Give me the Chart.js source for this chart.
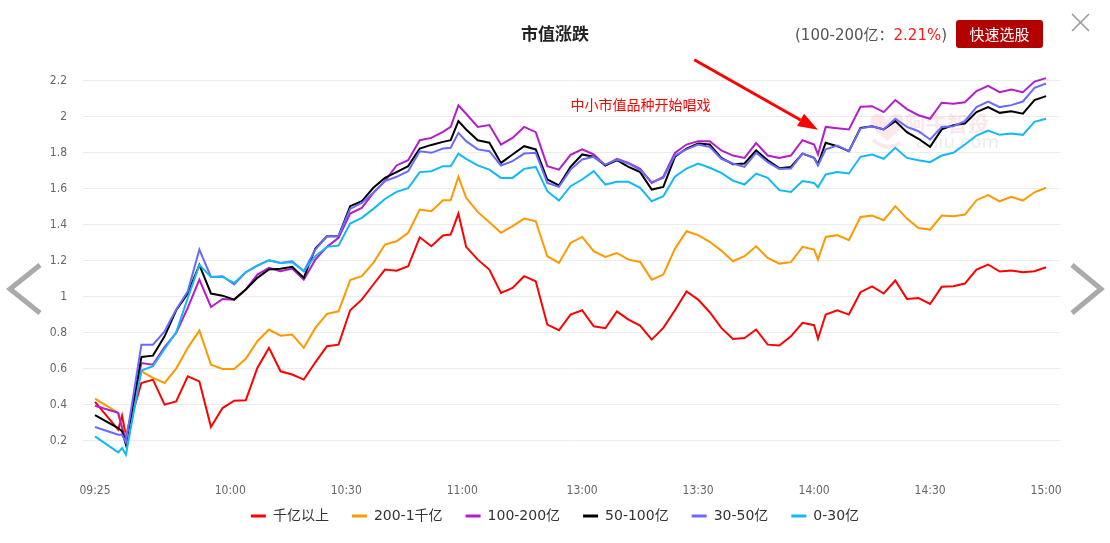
<!DOCTYPE html>
<html><head><meta charset="utf-8">
<script src="https://cdn.jsdelivr.net/npm/chart.js@4.4.0/dist/chart.umd.min.js"></script>
<style>
html,body{margin:0;padding:0;background:#fff;width:1110px;height:543px;overflow:hidden;font-family:"Noto Sans CJK SC",sans-serif;}
#wrap{position:relative;width:1110px;height:543px;}
#c{position:absolute;left:0;top:0;}
.title{position:absolute;left:0;width:1110px;top:21px;text-align:center;font-size:17px;font-weight:bold;color:#222;line-height:24px;}
.info{position:absolute;left:795px;top:23px;font-size:15px;color:#555;line-height:24px;font-family:"DejaVu Sans","Noto Sans CJK SC",sans-serif;white-space:nowrap;}
.info .v{color:#ff1a1a;}
.btn{position:absolute;left:956px;top:20px;width:87px;height:28px;background:#b30000;border-radius:3px;color:#fff;font-size:15px;line-height:28px;text-align:center;}
svg{position:absolute;left:0;top:0;pointer-events:none;}
</style></head>
<body><div id="wrap">
<canvas id="c" width="1110" height="543"></canvas>
<div class="title">市值涨跌</div>
<div class="info">(100-200亿：<span class="v">2.21%</span>)</div>
<div class="btn">快速选股</div>
<svg width="1110" height="543">
<line x1="1072" y1="14" x2="1089" y2="31" stroke="#999" stroke-width="1.6"/>
<line x1="1089" y1="14" x2="1072" y2="31" stroke="#999" stroke-width="1.6"/>
<polyline points="40,265 10,289 40,313" fill="none" stroke="#aaa" stroke-width="5"/>
<polyline points="1072,265 1101,289 1072,313" fill="none" stroke="#aaa" stroke-width="5"/>
</svg>
</div>
<script>
const times = ['09:25','09:31','09:32','09:33','09:37','09:40','09:43','09:46','09:49','09:52','09:55','09:58','10:01','10:04','10:07','10:10','10:13','10:16','10:19','10:22','10:25','10:28','10:31','10:34','10:37','10:40','10:43','10:46','10:49','10:52','10:55','10:57','10:59','11:01','11:04','11:07','11:10','11:13','11:16','11:19','11:22','11:25','11:28','13:00','13:03','13:06','13:09','13:12','13:15','13:18','13:21','13:24','13:27','13:30','13:33','13:36','13:39','13:42','13:45','13:48','13:51','13:54','13:57','14:00','14:01','14:03','14:06','14:09','14:12','14:15','14:18','14:21','14:24','14:27','14:30','14:33','14:36','14:39','14:42','14:45','14:48','14:51','14:54','14:57','15:00'];

const seriesNames = ['千亿以上','200-1千亿','100-200亿','50-100亿','30-50亿','0-30亿'];
const seriesColors = ['#ff0000','#ff9900','#b41ec8','#000000','#6a6aff','#12b9f7'];

const capOver1000 = [0.417,0.263,0.341,0.226,
0.522,0.541,0.402,0.420,0.559,0.531,0.278,0.383,0.424,0.426,0.606,0.717,0.587,0.569,0.541,0.637,0.726,0.735,0.926,0.985,1.069,1.152,1.146,1.170,1.331,1.281,1.341,
1.346,1.463,
1.278,1.207,1.152,1.022,1.050,1.115,1.087,0.846,0.815,0.902,
0.926,0.837,0.826,0.920,0.874,0.841,0.763,0.828,0.926,1.030,0.985,0.915,0.828,0.767,0.772,0.819,0.735,0.730,0.781,0.856,0.843,
0.767,
0.902,0.926,0.902,1.026,1.059,1.019,1.091,0.989,0.994,0.961,1.056,1.059,1.074,1.152,1.180,1.141,1.146,1.137,1.143,1.165];

const cap200to1000 = [0.435,0.356,0.272,0.226,
0.587,0.550,0.522,0.602,0.717,0.813,0.624,0.600,0.600,0.656,0.754,0.819,0.785,0.791,0.717,0.828,0.906,0.920,1.093,1.115,1.189,1.291,1.309,1.356,1.485,1.476,1.537,
1.537,1.667,
1.550,1.472,1.415,1.356,1.393,1.435,1.420,1.226,1.189,1.300,
1.333,1.254,1.222,1.244,1.207,1.194,1.096,1.124,1.267,1.365,1.343,1.306,1.257,1.198,1.226,1.281,1.217,1.185,1.193,1.278,1.263,
1.207,
1.333,1.343,1.315,1.444,1.452,1.426,1.504,1.435,1.383,1.374,1.452,1.448,1.457,1.537,1.565,1.531,1.556,1.535,1.581,1.606];

const cap100to200 = [0.396,0.356,0.272,0.207,
0.633,0.624,0.722,0.800,0.939,1.096,0.944,0.989,0.985,1.041,1.124,1.161,1.143,1.157,1.096,1.207,1.278,1.328,1.463,1.494,1.578,1.643,1.730,1.759,1.870,1.883,1.917,
1.944,2.063,
2.017,1.944,1.954,1.846,1.883,1.944,1.915,1.726,1.707,1.789,
1.819,1.791,1.730,1.767,1.744,1.711,1.633,1.667,1.800,1.846,1.865,1.865,1.813,1.785,1.772,1.854,1.785,1.772,1.785,1.870,1.846,
1.791,
1.944,1.937,1.930,2.056,2.059,2.026,2.093,2.043,2.009,1.989,2.078,2.072,2.081,2.143,2.172,2.137,2.152,2.137,2.196,2.215];

const cap50to100 = [0.343,0.272,0.254,0.180,
0.667,0.674,0.781,0.926,1.019,1.178,1.019,1.007,0.985,1.041,1.106,1.152,1.156,1.167,1.106,1.269,1.337,1.337,1.504,1.531,1.606,1.661,1.693,1.726,1.824,1.844,1.861,
1.870,1.976,
1.930,1.870,1.856,1.744,1.791,1.837,1.819,1.652,1.619,1.722,
1.791,1.778,1.730,1.759,1.722,1.693,1.596,1.611,1.778,1.824,1.852,1.846,1.772,1.737,1.741,1.813,1.759,1.715,1.722,1.796,1.772,
1.737,
1.856,1.837,1.809,1.939,1.948,1.930,1.976,1.915,1.878,1.833,1.930,1.954,1.963,2.026,2.054,2.022,2.031,2.017,2.093,2.115];

const cap30to50 = [0.278,0.235,0.235,0.193,
0.735,0.735,0.809,0.930,1.031,1.263,1.111,1.115,1.069,1.137,1.174,1.204,1.189,1.198,1.143,1.263,1.337,1.337,1.489,1.522,1.578,1.643,1.667,1.698,1.809,1.800,1.824,
1.828,1.911,
1.865,1.819,1.809,1.730,1.754,1.796,1.800,1.633,1.611,1.707,
1.763,1.778,1.735,1.763,1.741,1.704,1.637,1.661,1.785,1.819,1.846,1.833,1.767,1.741,1.722,1.800,1.748,1.711,1.713,1.796,1.772,
1.730,
1.819,1.841,1.809,1.935,1.948,1.930,1.989,1.944,1.920,1.874,1.944,1.948,1.976,2.054,2.085,2.054,2.065,2.085,2.161,2.185];

const cap0to30 = [0.226,0.137,0.161,0.124,
0.591,0.615,0.711,0.804,0.994,1.178,1.111,1.111,1.078,1.137,1.174,1.204,1.189,1.193,1.143,1.226,1.278,1.285,1.407,1.439,1.489,1.544,1.583,1.604,1.693,1.698,1.726,
1.726,1.796,
1.767,1.730,1.707,1.661,1.661,1.711,1.722,1.587,1.535,1.615,
1.652,1.698,1.624,1.639,1.639,1.606,1.531,1.559,1.667,1.713,1.741,1.717,1.689,1.646,1.624,1.685,1.661,1.593,1.583,1.643,1.633,
1.609,
1.680,1.693,1.685,1.778,1.791,1.767,1.828,1.772,1.759,1.748,1.785,1.800,1.846,1.896,1.924,1.900,1.907,1.900,1.972,1.989];

const xTickLabels = ['09:25','10:00','10:30','11:00','13:00','13:30','14:00','14:30','15:00'];
const yTickValues = [0.2,0.4,0.6,0.8,1.0,1.2,1.4,1.6,1.8,2.0,2.2];
const note = {text:'中小市值品种开始唱戏', time:'11:28', value:2.07};
const arrow = {fromTime:'13:29', fromValue:2.317, toTime:'14:01', toValue:1.928};

// trading-minute index: minutes since 09:25, with the 11:30-13:00 lunch break removed
function toIndex(t){
  const [h,m] = t.split(':').map(Number);
  let v = h*60 + m - (9*60+25);
  if (h >= 13) v -= 89;
  return v;
}

const allSeries = [capOver1000, cap200to1000, cap100to200, cap50to100, cap30to50, cap0to30];
const datasets = allSeries.map((vals,k)=>({
  label: seriesNames[k],
  data: vals.map((v,i)=>({x: toIndex(times[i]), y: v})),
  borderColor: seriesColors[k],
  backgroundColor: seriesColors[k],
  borderWidth: 2,
  pointRadius: 0,
  tension: 0,
  order: 6 - k
}));

const noLabelClip = {
  id:'noLabelClip',
  afterLayout(chart){ chart.scales.x._computeLabelArea = () => null; }
};

const watermark = {
  id:'watermark',
  beforeDatasetsDraw(chart){
    const c = chart.ctx;
    c.save();
    c.fillStyle = 'rgba(240,150,160,0.22)';
    c.beginPath();
    c.moveTo(887,121);
    c.bezierCurveTo(880,108,866,114,872,128);
    c.lineTo(887,141);
    c.lineTo(902,128);
    c.bezierCurveTo(908,114,894,108,887,121);
    c.fill();
    c.strokeStyle = 'rgba(240,150,160,0.22)';
    c.lineWidth = 4;
    c.beginPath();
    c.moveTo(873,140); c.quadraticCurveTo(888,152,900,143);
    c.stroke();
    c.font = 'bold 21px "Noto Sans CJK SC"';
    c.fillStyle = 'rgba(240,160,168,0.25)';
    c.textBaseline = 'middle';
    c.fillText('阿牛智投', 905, 123);
    c.font = '18px "DejaVu Sans", sans-serif';
    c.fillStyle = 'rgba(200,200,200,0.35)';
    c.fillText('aniu.com', 916, 143);
    c.restore();
  }
};

const annotate = {
  id:'annotate',
  afterDraw(chart){
    const c = chart.ctx, xs = chart.scales.x, ys = chart.scales.y;
    c.save();
    c.font = '14px "Noto Sans CJK SC"';
    c.fillStyle = '#ff0000';
    c.textBaseline = 'middle';
    c.fillText(note.text, xs.getPixelForValue(toIndex(note.time)), ys.getPixelForValue(note.value));
    const x1 = xs.getPixelForValue(toIndex(arrow.fromTime)), y1 = ys.getPixelForValue(arrow.fromValue);
    const x2 = xs.getPixelForValue(toIndex(arrow.toTime)), y2 = ys.getPixelForValue(arrow.toValue);
    const ang = Math.atan2(y2-y1, x2-x1), L = 20, W = 7;
    const bx = x2 - L*Math.cos(ang), by = y2 - L*Math.sin(ang);
    c.strokeStyle = '#ff0000'; c.lineWidth = 3;
    c.beginPath(); c.moveTo(x1,y1); c.lineTo(bx,by); c.stroke();
    c.fillStyle = '#ff0000';
    c.beginPath();
    c.moveTo(x2,y2);
    c.lineTo(bx + W*Math.sin(ang), by - W*Math.cos(ang));
    c.lineTo(bx - W*Math.sin(ang), by + W*Math.cos(ang));
    c.closePath(); c.fill();
    c.restore();
  }
};

new Chart(document.getElementById('c'), {
  type:'line',
  data:{datasets},
  options:{
    responsive:false,
    animation:false,
    layout:{padding:{left:50,right:50,top:70,bottom:10}},
    scales:{
      x:{
        type:'linear', min:-3.1, max:249.6,
        grid:{display:false, drawTicks:false},
        border:{display:false},
        afterBuildTicks:(s)=>{ s.ticks = xTickLabels.map(t=>({value: toIndex(t)})); },
        afterFit:(s)=>{ s.height = 27; },
        ticks:{
          autoSkip:false, maxRotation:0, padding:25, color:'#666',
          font:{family:'"DejaVu Sans Condensed","DejaVu Sans",sans-serif', size:12},
          callback:(v,i)=>xTickLabels[i]
        }
      },
      y:{
        min:0.1, max:2.26,
        grid:{color:'#ececec', drawTicks:false},
        border:{display:false},
        afterBuildTicks:(s)=>{ s.ticks = yTickValues.map(v=>({value:v})); },
        afterFit:(s)=>{ s.width = 33; },
        ticks:{
          padding:16, color:'#666',
          font:{family:'"DejaVu Sans Condensed","DejaVu Sans",sans-serif', size:12},
          callback:(v)=>String(+Number(v).toFixed(1))
        }
      }
    },
    plugins:{
      legend:{
        position:'bottom',
        labels:{
          boxWidth:15, boxHeight:3, padding:23, color:'#333',
          font:{family:'"DejaVu Sans","Noto Sans CJK SC",sans-serif', size:14},
          sort:(a,b)=>a.datasetIndex-b.datasetIndex,
          generateLabels:(chart)=>Chart.defaults.plugins.legend.labels.generateLabels(chart).map(l=>Object.assign(l,{lineWidth:0, fillStyle:l.strokeStyle}))
        }
      },
      tooltip:{enabled:false}
    }
  },
  plugins:[noLabelClip, watermark, annotate]
});
</script>
</body></html>
